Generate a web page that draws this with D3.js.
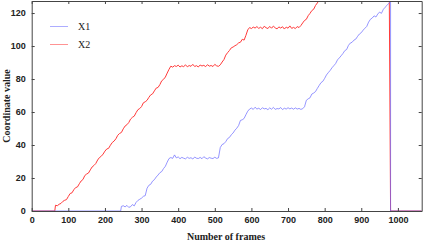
<!DOCTYPE html>
<html>
<head>
<meta charset="utf-8">
<script src="https://cdn.jsdelivr.net/npm/d3@7/dist/d3.min.js"></script>
<style>
  html, body { margin: 0; padding: 0; background: #fff; }
  svg { display: block; }
</style>
</head>
<body>
<div id="chart"></div>
<script>
// sampling step (frames) of the recorded series
var step = 5;

// X1 : zero until frame 243, then sampled every 5 frames from 245 to 980
var x1Start = 245;
var x1Values = [
  2.8, 3.2, 2.5, 3.4, 2.2, 2.6, 3.9, 3.1, 5.2, 6.4, 7.1, 7.8, 8.9, 9.3, 13.8, 15.6,
  16.2, 18.1, 19.0, 20.6, 21.8, 23.2, 23.9, 25.7, 27.1, 29.6, 31.8, 32.4, 31.9, 34.0,
  32.2, 32.8, 31.7, 32.5, 32.0, 31.6, 32.6, 31.9, 32.3, 31.5, 32.7, 32.0, 31.8, 32.5,
  31.7, 32.9, 32.1, 31.6, 32.4, 32.0, 31.8, 32.6, 31.9, 32.2, 38.5, 40.3, 40.8, 42.1,
  43.9, 44.6, 46.2, 47.3, 49.0, 50.2, 51.8, 54.9, 55.3, 56.1, 58.4, 60.5, 61.8, 62.4,
  61.6, 62.9, 61.8, 62.3, 61.5, 62.6, 61.9, 62.2, 61.4, 62.5, 61.7, 62.8, 61.6, 62.1,
  61.9, 62.7, 61.5, 62.3, 61.8, 62.6, 61.9, 62.4, 61.7, 62.5, 61.8, 62.2, 61.6, 62.0,
  63.2, 67.1, 68.0, 68.6, 70.9, 71.5, 72.4, 74.3, 76.1, 77.8, 78.6, 80.4, 82.5, 83.9,
  85.2, 86.8, 88.1, 89.4, 91.6, 92.8, 94.1, 95.5, 97.2, 97.9, 100.4, 101.8, 102.3,
  103.6, 104.2, 105.9, 107.3, 108.1, 109.6, 110.8, 111.9, 114.5, 116.2, 117.0, 118.3,
  117.6, 119.4, 120.6, 119.8, 122.1, 123.5, 124.6, 125.9, 127.0
];

// X2 : zero until frame 63, then sampled every 5 frames from 65 to 980
var x2Start = 65;
var x2Values = [
  3.5, 3.2, 4.1, 4.6, 5.8, 6.5, 6.9, 8.8, 10.6, 11.0, 12.9, 14.2, 14.6, 16.5, 18.2,
  19.1, 21.5, 22.4, 23.0, 24.9, 26.7, 27.6, 28.8, 30.9, 32.4, 33.2, 34.5, 36.3, 37.6,
  38.0, 39.9, 41.5, 42.4, 43.8, 45.9, 47.0, 47.6, 49.8, 51.5, 52.3, 53.6, 55.7, 56.8,
  57.5, 59.6, 61.4, 62.1, 63.3, 65.6, 66.2, 67.1, 68.9, 70.4, 71.0, 72.8, 74.5, 74.9,
  76.6, 78.9, 79.8, 81.2, 83.6, 85.9, 87.8, 87.2, 88.1, 87.6, 88.4, 87.3, 88.0, 87.5,
  88.6, 87.4, 88.2, 87.7, 88.9, 87.6, 88.1, 87.3, 88.5, 87.9, 88.3, 87.5, 88.7, 87.8,
  88.2, 87.6, 88.9, 88.0, 87.7, 88.6, 90.3, 91.8, 94.5, 96.0, 97.3, 98.9, 99.4, 100.2,
  100.8, 101.9, 102.3, 104.1, 103.6, 106.5, 109.8, 111.2, 110.6, 111.5, 110.9, 111.8,
  110.7, 111.4, 110.5, 112.0, 111.1, 110.6, 111.9, 110.8, 112.1, 111.0, 110.4, 111.6,
  110.9, 111.7, 110.3, 111.5, 110.8, 112.2, 110.7, 111.3, 110.6, 111.8, 111.2, 112.4,
  114.0, 115.5, 116.2, 118.4, 119.8, 121.5, 122.3, 124.6, 126.1, 127.8, 129.5, 131.0,
  132.6, 134.1, 135.9, 137.2, 138.8, 140.1, 141.9, 143.0, 144.8, 146.3, 147.5, 149.2,
  150.6, 152.1, 153.7, 155.0, 156.8, 158.1, 159.6, 161.2, 162.5, 164.3, 165.6, 167.0,
  168.7, 170.1, 171.4, 173.2, 174.5, 176.0, 177.8, 179.1, 180.4, 182.2, 183.6, 185.0
];

var endFrame = 980;     // both series fall back to zero here
var lastFrame = 1065;

var xTicks = [0, 100, 200, 300, 400, 500, 600, 700, 800, 900, 1000];
var yTicks = [0, 20, 40, 60, 80, 100, 120];

function buildSeries(start, values) {
  var pts = [[0, 0], [start - 2, 0]];
  values.forEach(function(v, i) { pts.push([start + i * step, v]); });
  pts.push([endFrame, 0]);
  pts.push([lastFrame, 0]);
  return pts;
}

var series = [
  { name: 'X2', color: '#ff3a3a', opacity: 1, points: buildSeries(x2Start, x2Values) },
  { name: 'X1', color: '#6a6aff', opacity: 0.7, points: buildSeries(x1Start, x1Values) }
];

var width = 423, height = 242;
var margin = { top: 1, right: 1.3, bottom: 31, left: 31.7 };

var svg = d3.select('#chart').append('svg')
  .attr('width', width).attr('height', height);

var x = d3.scaleLinear().domain([0, lastFrame]).range([margin.left, width - margin.right]);
var y = d3.scaleLinear().domain([0, 127.3]).range([height - margin.bottom, margin.top]);

svg.append('clipPath').attr('id', 'clip').append('rect')
  .attr('x', margin.left).attr('y', margin.top)
  .attr('width', width - margin.left - margin.right)
  .attr('height', height - margin.top - margin.bottom);

var line = d3.line().x(function(d) { return x(d[0]); }).y(function(d) { return y(d[1]); });

svg.append('g').attr('clip-path', 'url(#clip)')
  .selectAll('path').data(series).enter().append('path')
  .attr('d', function(d) { return line(d.points); })
  .attr('fill', 'none')
  .attr('stroke', function(d) { return d.color; })
  .attr('stroke-opacity', function(d) { return d.opacity; })
  .attr('stroke-width', 1);

// axes, ticks pointing inward on all four sides
var axisColor = '#444';
var tickFont = 'bold 9px "Liberation Sans", Arial, sans-serif';
var fmt = d3.format('d');

var axisBottomG = svg.append('g').attr('transform', 'translate(0,' + y(0) + ')')
  .call(d3.axisBottom(x).tickValues(xTicks).tickFormat(fmt).tickSizeInner(-3).tickSizeOuter(0).tickPadding(6));
var axisTopG = svg.append('g').attr('transform', 'translate(0,' + margin.top + ')')
  .call(d3.axisTop(x).tickValues(xTicks).tickSizeInner(-3).tickSizeOuter(0).tickFormat(''));
var axisLeftG = svg.append('g').attr('transform', 'translate(' + margin.left + ',0)')
  .call(d3.axisLeft(y).tickValues(yTicks).tickFormat(fmt).tickSizeInner(-3).tickSizeOuter(0).tickPadding(6));
var axisRightG = svg.append('g').attr('transform', 'translate(' + (width - margin.right) + ',0)')
  .call(d3.axisRight(y).tickValues(yTicks).tickSizeInner(-3).tickSizeOuter(0).tickFormat(''));

[axisBottomG, axisTopG, axisLeftG, axisRightG].forEach(function(g) {
  g.selectAll('path, line').attr('stroke', axisColor);
  g.selectAll('text').style('font', tickFont).attr('fill', '#222');
});

// axis titles
svg.append('text')
  .attr('x', 226).attr('y', 240)
  .attr('text-anchor', 'middle')
  .style('font', 'bold 10px "Liberation Serif", "Times New Roman", serif')
  .attr('fill', '#222')
  .text('Number of frames');

svg.append('text')
  .attr('transform', 'translate(10,106) rotate(-90)')
  .attr('text-anchor', 'middle')
  .style('font', 'bold 10px "Liberation Serif", "Times New Roman", serif')
  .attr('fill', '#222')
  .text('Coordinate value');

// legend
var legend = svg.append('g');
var legendItems = [series[1], series[0]];
legendItems.forEach(function(s, i) {
  var ly = 26.5 + i * 18;
  legend.append('line')
    .attr('x1', 50).attr('x2', 68).attr('y1', ly).attr('y2', ly)
    .attr('stroke', s.color).attr('stroke-opacity', 0.55).attr('stroke-width', 1);
  legend.append('text')
    .attr('x', 78).attr('y', ly + 3.5)
    .style('font', '10px "Liberation Serif", "Times New Roman", serif')
    .attr('fill', '#222')
    .text(s.name);
});
</script>
</body>
</html>
